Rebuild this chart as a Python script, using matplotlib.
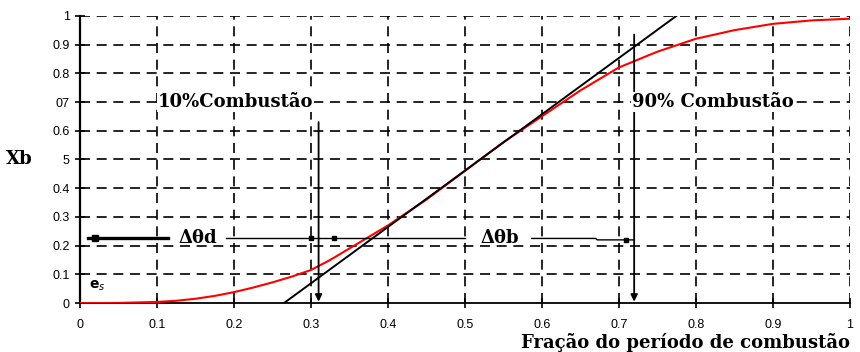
import numpy as np
import matplotlib
matplotlib.use("Agg")
import matplotlib.pyplot as plt

# --- data ---
frac = [0, 0.05, 0.1, 0.125, 0.15, 0.175, 0.2, 0.225, 0.25, 0.275, 0.3, 0.325,
        0.35, 0.375, 0.4, 0.45, 0.5, 0.55, 0.6, 0.65, 0.7, 0.75, 0.8, 0.85,
        0.9, 0.95, 1.0]
xb = [0, 0.0005, 0.004, 0.008, 0.015, 0.025, 0.038, 0.054, 0.072, 0.092, 0.115,
      0.15, 0.19, 0.23, 0.27, 0.36, 0.46, 0.56, 0.65, 0.74, 0.82, 0.875, 0.92,
      0.95, 0.972, 0.984, 0.99]

tangent_x = [0.265, 0.775]
tangent_y = [0.0, 1.0]

x10, x90 = 0.31, 0.72          # 10% and 90% burn marks
y_delta = 0.225                # height of the delta-theta arrows

xticks = [0, 0.1, 0.2, 0.3, 0.4, 0.5, 0.6, 0.7, 0.8, 0.9, 1]
xtick_labels = ["0", "0.1", "0.2", "0.3", "0.4", "0.5", "0.6", "0.7", "0.8", "0.9", "1"]
yticks = [0, 0.1, 0.2, 0.3, 0.4, 0.5, 0.6, 0.7, 0.8, 0.9, 1]
ytick_labels = ["0", "0.1", "0.2", "0.3", "0.4", "5", "0.6", "07", "0.8", "0.9", "1"]

SERIF = "DejaVu Serif"

fig = plt.figure(figsize=(8.6, 3.52), dpi=100)
ax = fig.add_axes([0.093, 0.139, 0.895, 0.816])

# dashed grid
for v in xticks[1:]:
    ax.plot([v, v], [0, 1], color="black", lw=1.2, ls=(0, (6, 4)), zorder=1)
for v in yticks[1:]:
    ax.plot([0, 1], [v, v], color="black", lw=1.2, ls=(0, (6, 4)), zorder=1)

# curves
ax.plot(frac, xb, color="red", lw=1.5, zorder=3)
ax.plot(tangent_x, tangent_y, color="black", lw=1.4, zorder=4)

# vertical arrows at 10% and 90%
for xv, ytop in [(x10, 0.63), (x90, 0.935)]:
    ax.annotate("", xy=(xv, 0.005), xytext=(xv, ytop),
                arrowprops=dict(arrowstyle="-|>", color="black", lw=1.3,
                                mutation_scale=10, shrinkA=0, shrinkB=0),
                zorder=5)

# delta theta d
ax.plot([0.01, 0.115], [y_delta, y_delta], color="black", lw=2.4, zorder=5)
ax.plot([0.02], [y_delta], marker="s", ms=4.5, color="black", zorder=5)
ax.plot([0.19, 0.31], [y_delta, y_delta], color="black", lw=1.0, zorder=5)
ax.plot([0.30], [y_delta], marker="s", ms=3.5, color="black", zorder=5)
ax.text(0.153, y_delta, "Δθd", fontsize=13, fontweight="bold", family=SERIF,
        ha="center", va="center", zorder=6)

# delta theta b
ax.plot([0.31, 0.5], [y_delta, y_delta], color="black", lw=1.0, zorder=5)
ax.plot([0.33], [y_delta], marker="s", ms=3.5, color="black", zorder=5)
ax.plot([0.587, 0.67, 0.672, 0.72], [y_delta, y_delta, 0.22, 0.22],
        color="black", lw=1.0, zorder=5)
ax.plot([0.71], [0.22], marker="s", ms=3.5, color="black", zorder=5)
ax.text(0.545, y_delta, "Δθb", fontsize=13, fontweight="bold", family=SERIF,
        ha="center", va="center", zorder=6)

# labels in the plot
ax.text(0.101, 0.70, "10%Combustão", fontsize=13, fontweight="bold",
        family=SERIF, ha="left", va="center", zorder=6,
        bbox=dict(facecolor="white", edgecolor="none", pad=0.5))
ax.text(0.717, 0.70, "90% Combustão", fontsize=13, fontweight="bold",
        family=SERIF, ha="left", va="center", zorder=6,
        bbox=dict(facecolor="white", edgecolor="none", pad=0.5))
ax.text(0.012, 0.06, "e$_s$", fontsize=10, fontweight="bold",
        ha="left", va="center", zorder=6)

# axes
ax.set_xlim(0, 1)
ax.set_ylim(0, 1)
ax.spines["top"].set_visible(False)
ax.spines["right"].set_visible(False)
ax.spines["left"].set_linewidth(1.6)
ax.spines["bottom"].set_linewidth(1.3)
ax.set_xticks(xticks)
ax.set_xticklabels(xtick_labels, family="Liberation Sans")
ax.set_yticks(yticks)
ax.set_yticklabels(ytick_labels, family="Liberation Sans")
ax.tick_params(direction="inout", length=7, width=1.2, labelsize=9, pad=4)
ax.tick_params(axis="x", pad=8)

ax.set_ylabel("Xb", fontsize=13, fontweight="bold", family=SERIF,
              rotation=0, labelpad=24, va="center")
fig.text(0.988, 0.012, "Fração do período de combustão", fontsize=13,
         fontweight="bold", family=SERIF, ha="right", va="baseline")

fig.savefig("out.png", dpi=100)
